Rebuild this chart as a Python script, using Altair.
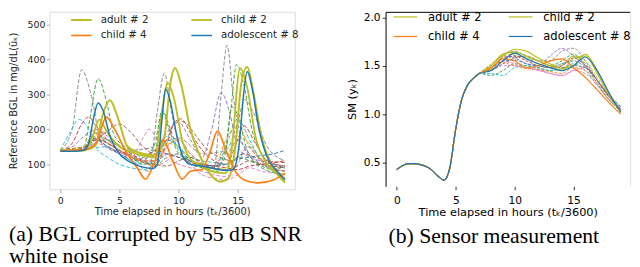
import altair as alt
import pandas as pd

# ---------------- shared ----------------
hl_names = ["adult # 2", "child # 2", "child # 4", "adolescent # 8"]
hl_colors = ["#bcbd22", "#bcbd22", "#ff7f0e", "#1f77b4"]
x_ticks = [0, 5, 10, 15]

# ---------------- (a) reference BGL, mg/dL ----------------
adult2_t = [0, 1, 2, 3, 3.5, 4.2, 4.8, 5.7, 7, 8, 8.8, 9.3, 9.7, 10.2, 11, 12, 13, 13.5, 14.2, 14.8, 15.3, 15.8, 16.3, 17, 18, 19]
adult2_v = [140, 138, 140, 155, 230, 283, 240, 150, 130, 125, 180, 330, 375, 330, 200, 110, 60, 50, 60, 150, 330, 378, 310, 180, 90, 48]
child2_t = [0, 1, 2, 2.6, 3.3, 4, 5, 6, 7, 8, 8.5, 9.1, 9.6, 10.3, 11, 12, 13, 14, 14.5, 15.2, 15.8, 16.5, 17.5, 18.5, 19]
child2_v = [142, 140, 140, 165, 228, 190, 150, 135, 125, 120, 230, 333, 290, 170, 115, 95, 78, 75, 150, 375, 320, 180, 100, 70, 60]
child4_t = [0, 1, 2, 3, 3.9, 4.6, 5.5, 6.5, 7.2, 7.9, 8.7, 9.5, 10.3, 11, 12, 12.6, 13.3, 14, 15, 16, 16.8, 18, 19]
child4_v = [138, 140, 142, 160, 235, 200, 140, 90, 58, 100, 170, 110, 58, 80, 85, 130, 195, 140, 70, 50, 47, 55, 75]
adol8_t = [0, 1, 2, 2.4, 2.8, 3.2, 3.6, 4.2, 5, 6, 7, 7.8, 8.2, 8.6, 8.9, 9.3, 9.8, 10.4, 11, 12, 13, 14, 14.6, 15.1, 15.5, 15.8, 16.2, 16.8, 17.5, 18.2, 19]
adol8_v = [138, 137, 140, 160, 230, 275, 255, 180, 130, 105, 92, 88, 100, 230, 315, 280, 190, 120, 100, 95, 88, 82, 85, 150, 300, 365, 320, 200, 120, 85, 55]

bgl_others = [
    ("#7f7f7f", [0, 1, 1.8, 2.6, 3.5, 5, 6.5, 7.5, 8.2, 8.8, 9.4, 10.2, 11.5, 13, 13.6, 14.1, 14.6, 15.5, 17, 19],
                [140, 200, 370, 300, 160, 130, 100, 80, 250, 360, 250, 140, 100, 90, 300, 440, 300, 150, 100, 90]),
    ("#7f7f7f", [0, 2, 4, 6, 8, 10, 12, 14, 15, 15.6, 16.3, 17.5, 19],
                [140, 150, 170, 140, 150, 175, 130, 140, 220, 285, 250, 150, 110]),
    ("#2ca02c", [0, 1, 2, 2.5, 3.2, 3.9, 4.6, 6, 7, 8, 8.6, 9.2, 10, 11, 12, 13, 13.8, 14.4, 14.9, 15.5, 16.2, 17, 18, 19],
                [140, 142, 150, 230, 345, 280, 180, 140, 120, 160, 250, 200, 130, 110, 100, 95, 110, 250, 385, 330, 200, 130, 100, 95]),
    ("#2ca02c", [0, 2, 3, 4, 5, 6, 7, 8, 9, 10, 11, 12, 13, 14, 14.5, 15, 15.8, 17, 19],
                [138, 150, 180, 170, 150, 130, 110, 95, 120, 130, 100, 90, 80, 150, 265, 240, 140, 90, 70]),
    ("#2ca02c", [0, 2, 3, 4, 5, 6, 7, 8, 8.6, 9.3, 10, 11, 12, 13, 14, 15, 16, 17, 18, 19],
                [142, 150, 190, 160, 140, 120, 100, 130, 255, 200, 140, 110, 90, 80, 85, 120, 110, 95, 85, 95]),
    ("#17becf", [0, 0.8, 1.6, 2.4, 3, 4, 5, 6, 7, 8, 9, 10, 11, 12, 13, 14, 15, 16, 17, 18, 19],
                [140, 190, 228, 200, 150, 120, 100, 90, 85, 100, 170, 150, 110, 95, 90, 150, 230, 170, 110, 80, 70]),
    ("#17becf", [0, 2, 4, 5, 6, 7, 8, 9, 10, 11, 12, 13, 14, 15, 16, 17, 18, 19],
                [140, 145, 150, 130, 110, 100, 110, 180, 150, 120, 110, 105, 100, 120, 150, 110, 90, 80]),
    ("#d62728", [0, 1, 1.8, 2.4, 3, 4, 5, 6, 7, 8, 9, 9.6, 10.2, 11, 12, 13, 14, 15, 15.5, 16.5, 17.5, 19],
                [140, 160, 215, 235, 210, 170, 140, 125, 110, 110, 160, 215, 230, 190, 140, 110, 100, 170, 210, 160, 110, 95]),
    ("#d62728", [0, 2, 3, 4, 5, 6, 7, 8, 9, 10, 11, 12, 13, 14, 15, 16, 17, 18, 19],
                [140, 150, 175, 150, 135, 120, 110, 140, 130, 120, 105, 100, 95, 90, 85, 95, 100, 105, 110]),
    ("#9467bd", [0, 1, 2, 3, 4, 5, 6, 7, 8, 9, 10, 11, 12, 12.8, 13.6, 14.3, 15, 16, 17, 18, 19],
                [140, 150, 180, 200, 180, 150, 130, 115, 140, 190, 220, 170, 120, 200, 305, 250, 150, 120, 110, 100, 90]),
    ("#9467bd", [0, 2, 3, 4, 5, 6, 8, 9, 10, 11, 12, 13, 14, 15, 16, 17, 19],
                [138, 145, 170, 160, 140, 120, 100, 150, 170, 130, 105, 95, 120, 170, 130, 100, 80]),
    ("#e377c2", [0, 1, 2, 3, 4, 5, 6, 7, 7.5, 8.2, 9, 10, 11, 12, 13, 14, 15, 15.8, 16.8, 18, 19],
                [140, 142, 150, 190, 170, 140, 120, 175, 200, 170, 120, 100, 90, 80, 70, 65, 100, 150, 120, 90, 80]),
    ("#e377c2", [0, 2, 3, 4, 5, 6, 7, 8, 9, 10, 11, 12, 13, 14, 15, 16, 17, 18, 19],
                [138, 140, 160, 150, 135, 120, 110, 95, 110, 130, 100, 70, 60, 55, 70, 90, 80, 75, 70]),
    ("#8c564b", [0, 1, 2, 3, 4, 5, 6, 7, 8, 9, 9.8, 10.5, 11.5, 12.5, 13.5, 14.5, 15.5, 16.5, 17.5, 19],
                [140, 145, 150, 170, 195, 215, 190, 150, 130, 170, 225, 220, 180, 140, 120, 110, 130, 120, 110, 105]),
    ("#8c564b", [0, 2, 3, 4, 5, 6, 7, 8, 9, 10, 11, 12, 13, 14, 15, 16, 17, 18, 19],
                [140, 145, 175, 160, 140, 125, 110, 100, 95, 110, 120, 100, 90, 85, 95, 110, 100, 95, 90]),
    ("#1f77b4", [0, 2, 3, 4, 5, 6, 7, 8, 9, 10, 11, 12, 13, 14, 15, 16, 17, 18, 19],
                [140, 145, 170, 150, 130, 115, 105, 100, 130, 120, 110, 100, 95, 100, 115, 120, 125, 130, 140]),
    ("#ff7f0e", [0, 2, 3, 4, 5, 6, 7, 8, 9, 10, 11, 12, 13, 14, 15, 16, 17, 18, 19],
                [140, 150, 185, 160, 140, 120, 105, 95, 150, 170, 130, 100, 90, 170, 210, 150, 110, 90, 80]),
    ("#bcbd22", [0, 2, 3, 4, 5, 6, 7, 8, 9, 10, 11, 12, 13, 14, 15, 16, 17, 18, 19],
                [140, 150, 200, 185, 150, 125, 110, 100, 160, 150, 115, 95, 85, 90, 180, 160, 110, 85, 70]),
]

# ---------------- (b) sensor measurement ----------------
sm_t_early = [0, 0.5, 1, 1.5, 2, 2.5, 3, 3.5, 4, 4.5, 5, 5.5, 6, 6.5, 7]
sm_v_early = [0.43, 0.47, 0.49, 0.49, 0.48, 0.46, 0.42, 0.36, 0.32, 0.45, 0.85, 1.15, 1.3, 1.37, 1.42]
sm_t_late = [8, 9, 10, 11, 12, 13, 14, 15, 16, 17, 18, 19]
sm_adult2 = [1.48, 1.6, 1.67, 1.65, 1.58, 1.52, 1.47, 1.5, 1.62, 1.45, 1.22, 1.02]
sm_child2 = [1.5, 1.62, 1.64, 1.6, 1.55, 1.5, 1.45, 1.58, 1.6, 1.42, 1.2, 1.03]
sm_child4 = [1.47, 1.57, 1.55, 1.48, 1.5, 1.55, 1.57, 1.48, 1.38, 1.25, 1.12, 1.0]
sm_adol8 = [1.45, 1.55, 1.63, 1.57, 1.52, 1.48, 1.45, 1.5, 1.59, 1.45, 1.22, 1.02]
sm_others = [
    ("#7f7f7f", [1.5, 1.62, 1.65, 1.6, 1.55, 1.55, 1.65, 1.68, 1.55, 1.35, 1.18, 1.05]),
    ("#2ca02c", [1.45, 1.55, 1.6, 1.58, 1.52, 1.5, 1.55, 1.62, 1.5, 1.32, 1.15, 1.03]),
    ("#2ca02c", [1.4, 1.45, 1.52, 1.5, 1.48, 1.45, 1.5, 1.6, 1.52, 1.35, 1.18, 1.05]),
    ("#17becf", [1.42, 1.4, 1.48, 1.5, 1.47, 1.45, 1.47, 1.52, 1.45, 1.3, 1.15, 1.05]),
    ("#d62728", [1.48, 1.58, 1.6, 1.55, 1.5, 1.48, 1.5, 1.58, 1.5, 1.35, 1.18, 1.05]),
    ("#9467bd", [1.5, 1.6, 1.58, 1.52, 1.5, 1.6, 1.68, 1.6, 1.5, 1.35, 1.2, 1.07]),
    ("#e377c2", [1.48, 1.55, 1.52, 1.48, 1.45, 1.42, 1.4, 1.45, 1.42, 1.3, 1.15, 1.05]),
    ("#8c564b", [1.45, 1.52, 1.58, 1.6, 1.55, 1.5, 1.48, 1.5, 1.48, 1.35, 1.18, 1.06]),
    ("#1f77b4", [1.47, 1.55, 1.56, 1.52, 1.5, 1.48, 1.52, 1.55, 1.48, 1.35, 1.2, 1.08]),
    ("#ff7f0e", [1.5, 1.53, 1.5, 1.47, 1.46, 1.44, 1.42, 1.48, 1.45, 1.32, 1.15, 1.04]),
    ("#bcbd22", [1.52, 1.6, 1.62, 1.58, 1.55, 1.5, 1.52, 1.6, 1.55, 1.38, 1.2, 1.06]),
    ("#e377c2", [1.45, 1.5, 1.5, 1.48, 1.46, 1.42, 1.4, 1.45, 1.48, 1.35, 1.18, 1.06]),
]

# ---------------- tables ----------------
def rows(name, ts, vs):
    return [{"name": name, "t": a, "v": b} for a, b in zip(ts, vs)]

left_hl = []
for n, ts, vs in zip(hl_names, [adult2_t, child2_t, child4_t, adol8_t], [adult2_v, child2_v, child4_v, adol8_v]):
    left_hl += rows(n, ts, vs)
left_bg, left_bg_names, left_bg_colors = [], [], []
for i, (c, ts, vs) in enumerate(bgl_others):
    left_bg += rows(f"p{i}", ts, vs)
    left_bg_names.append(f"p{i}")
    left_bg_colors.append(c)

right_hl = []
for n, tail in zip(hl_names, [sm_adult2, sm_child2, sm_child4, sm_adol8]):
    right_hl += rows(n, sm_t_early + sm_t_late, sm_v_early + tail)
right_bg, right_bg_names, right_bg_colors = [], [], []
for i, (c, tail) in enumerate(sm_others):
    right_bg += rows(f"q{i}", sm_t_early + sm_t_late, sm_v_early + tail)
    right_bg_names.append(f"q{i}")
    right_bg_colors.append(c)

df_lhl, df_lbg = pd.DataFrame(left_hl), pd.DataFrame(left_bg)
df_rhl, df_rbg = pd.DataFrame(right_hl), pd.DataFrame(right_bg)

FONT = "DejaVu Sans"
SERIF = "Liberation Serif"

# ---------------- left panel ----------------
xl_scale = alt.Scale(domain=[-0.92, 19.83], nice=False, zero=False)
yl_scale = alt.Scale(domain=[28.7, 535.8], nice=False, zero=False)
xl_axis = alt.Axis(values=x_ticks, title="Time elapsed in hours (tₖ/3600)", domain=False, grid=False,
                   tickColor="#9a9a9a", tickSize=3.5, tickWidth=0.8, labelFont=FONT, labelFontSize=9.5,
                   labelColor="#262626", labelPadding=2.5, titleFont=FONT, titleFontSize=10,
                   titleFontWeight="normal", titleColor="#262626", titlePadding=2)
yl_axis = alt.Axis(values=[100, 200, 300, 400, 500], title="Reference BGL in mg/dL(ũₖ)", domain=False,
                   grid=False, tickColor="#9a9a9a", tickSize=3, tickWidth=0.8, labelFont=FONT,
                   labelFontSize=9.5, labelColor="#262626", labelPadding=1.5, titleFont=FONT,
                   titleFontSize=10, titleFontWeight="normal", titleColor="#262626", titleX=-41,
                   titleBaseline="top")

leg_left = alt.Legend(title=None, orient="none", legendX=21, legendY=2, columns=2, direction="horizontal",
                      padding=0, symbolType="M-1,0L3.2,0", symbolSize=100, labelOffset=19, labelFont=FONT,
                      labelFontSize=10.4, labelColor="#262626", columnPadding=39, rowPadding=4,
                      symbolStrokeWidth=1.6)

l_bg = alt.Chart(df_lbg).mark_line(strokeWidth=0.9, strokeDash=[4, 2], interpolate="monotone", clip=True).encode(
    x=alt.X("t:Q", scale=xl_scale, axis=xl_axis),
    y=alt.Y("v:Q", scale=yl_scale, axis=yl_axis),
    color=alt.Color("name:N", scale=alt.Scale(domain=left_bg_names, range=left_bg_colors), legend=None),
    detail="name:N",
)
l_hl = alt.Chart(df_lhl).mark_line(interpolate="monotone", clip=True).encode(
    x=alt.X("t:Q", scale=xl_scale, axis=xl_axis),
    y=alt.Y("v:Q", scale=yl_scale, axis=yl_axis),
    color=alt.Color("name:N", scale=alt.Scale(domain=hl_names, range=hl_colors), legend=leg_left),
    strokeWidth=alt.StrokeWidth("name:N", scale=alt.Scale(domain=hl_names, range=[2.0, 1.5, 1.5, 2.0]), legend=leg_left),
)
left = alt.layer(l_bg, l_hl).resolve_scale(color="independent", strokeWidth="independent").properties(
    width=249, height=180,
    view=alt.ViewBackground(stroke="#dcdcdc", strokeWidth=1),
    title=alt.TitleParams(text=["(a) BGL corrupted by 55 dB SNR", "white noise"], orient="bottom",
                          anchor="start", frame="bounds", font=SERIF, fontSize=22, fontWeight="normal",
                          color="black", lineHeight=22, offset=8),
)

# ---------------- right panel ----------------
xr_scale = alt.Scale(domain=[-0.96, 19.79], nice=False, zero=False)
yr_scale = alt.Scale(domain=[0.256, 2.056], nice=False, zero=False)
xr_axis = alt.Axis(values=x_ticks, title="Time elapsed in hours (tₖ/3600)", domain=False, grid=False,
                   tickColor="black", tickSize=3.5, tickWidth=0.8, labelFont=FONT, labelFontSize=10.8,
                   labelColor="black", labelPadding=4.5, titleFont=FONT, titleFontSize=11.5,
                   titleFontWeight="normal", titleColor="black", titlePadding=2)
yr_axis = alt.Axis(values=[0.5, 1.0, 1.5, 2.0], format=".1f", title="SM (yₖ)", domain=True,
                   domainColor="black", domainWidth=1, grid=False, tickColor="black", tickSize=3.5,
                   tickWidth=0.8, labelFont=FONT, labelFontSize=10.8, labelColor="black", labelPadding=2,
                   titleFont=FONT, titleFontSize=11.5, titleFontWeight="normal", titleColor="black",
                   titleX=-39, titleBaseline="top")
xr_top = alt.Axis(orient="top", labels=False, ticks=False, title=None, grid=False, domain=True,
                  domainColor="black", domainWidth=1, minExtent=0, maxExtent=0)
yr_right = alt.Axis(orient="right", labels=False, ticks=False, title=None, grid=False, domain=True,
                    domainColor="#e4e4e4", domainWidth=1, minExtent=0, maxExtent=0)

leg_right = alt.Legend(title=None, orient="none", legendX=7, legendY=-1, columns=2, direction="horizontal",
                       padding=0, symbolType="M-1,0L3.8,0", symbolSize=100, labelOffset=24, labelFont=FONT,
                       labelFontSize=11.7, labelColor="black", columnPadding=24, rowPadding=7,
                       symbolStrokeWidth=1.6)

r_bg = alt.Chart(df_rbg).mark_line(strokeWidth=0.9, strokeDash=[3, 1.5], interpolate="monotone", clip=True).encode(
    x=alt.X("t:Q", scale=xr_scale, axis=xr_axis),
    y=alt.Y("v:Q", scale=yr_scale, axis=yr_axis),
    color=alt.Color("name:N", scale=alt.Scale(domain=right_bg_names, range=right_bg_colors), legend=None),
    detail="name:N",
)
r_hl = alt.Chart(df_rhl).mark_line(interpolate="monotone", clip=True).encode(
    x=alt.X("t:Q", scale=xr_scale, axis=xr_top),
    y=alt.Y("v:Q", scale=yr_scale, axis=yr_right),
    color=alt.Color("name:N", scale=alt.Scale(domain=hl_names, range=hl_colors), legend=leg_right),
    strokeWidth=alt.StrokeWidth("name:N", scale=alt.Scale(domain=hl_names, range=[1.2, 1.2, 2.2, 2.2]), legend=leg_right),
)
right = alt.layer(r_bg, r_hl).resolve_scale(color="independent", strokeWidth="independent").resolve_axis(
    x="independent", y="independent").properties(
    width=248, height=177,
    view=alt.ViewBackground(stroke="transparent"),
    title=alt.TitleParams(text="(b) Sensor measurement", orient="bottom", anchor="start", frame="group",
                          dx=3, font=SERIF, fontSize=22, fontWeight="normal", color="black", offset=8),
)

chart = alt.hconcat(left, right, spacing=92, bounds="flush").properties(
    padding={"left": 0, "top": 0, "right": 0, "bottom": 0}
).configure(background="white")

chart.save("out.html", embed_options={"renderer": "svg", "actions": False})
